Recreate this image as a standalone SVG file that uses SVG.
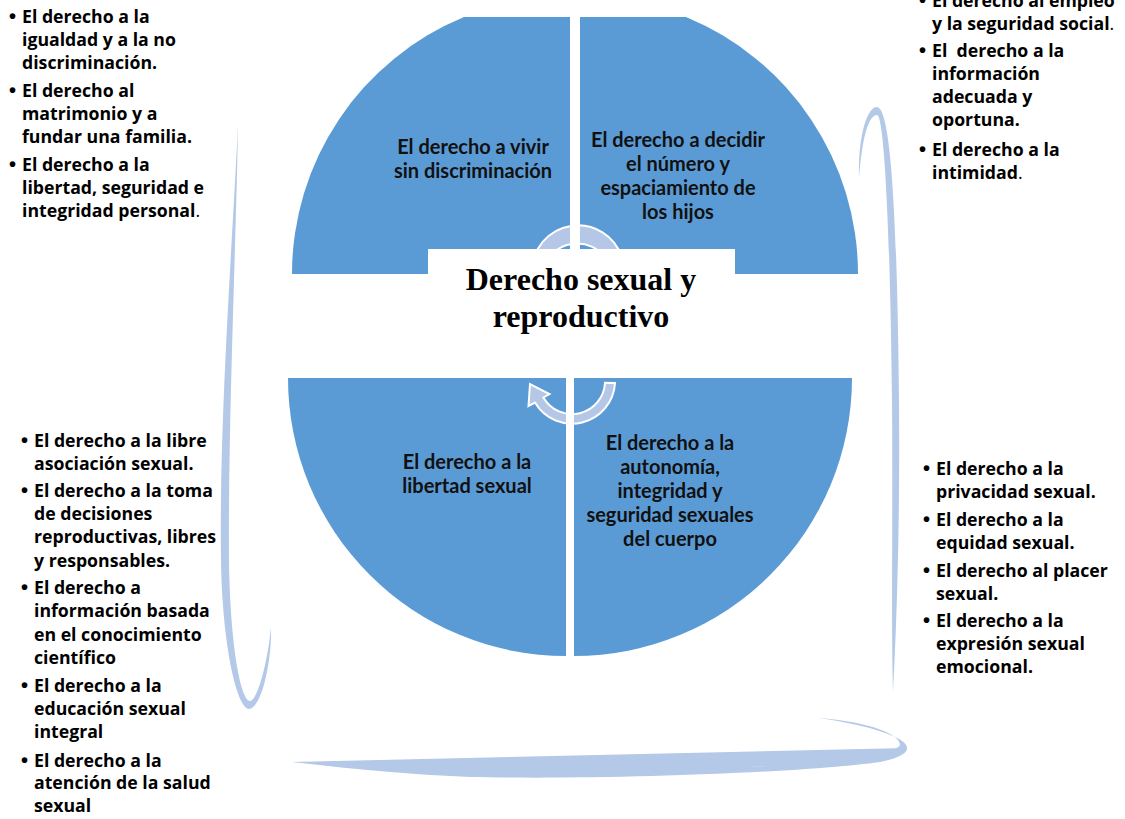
<svg xmlns="http://www.w3.org/2000/svg" width="1125" height="819" viewBox="0 0 1125 819">
<defs>
<style>
.quad{fill:#5b9bd5}
.brace{fill:#b4c8e8}
.arrow{fill:#b4c7e7;stroke:#fff;stroke-width:2}
.side{font-family:"Open Sans","Liberation Sans",sans-serif;font-weight:bold;font-size:17.7px;fill:#000}
.bul{font-family:"Liberation Sans",sans-serif;font-weight:bold;font-size:20px;fill:#000}
.qt{font-family:Lato,"Liberation Sans",sans-serif;font-weight:bold;font-size:20px;fill:#111;text-anchor:middle}
.title{font-family:"Liberation Serif","Times New Roman",serif;font-weight:bold;font-size:32px;fill:#000;text-anchor:middle}
.nw{font-weight:normal}
</style>
</defs>
<rect width="1125" height="819" fill="#fff"/>

<g id="braces">
<path class="brace" d="M238,125 C232,250 219,420 221,560 C222,640 236,708 249,709 C262,708 272,660 271,627 C268,660 258,700 250,701 C240,700 230,640 229,560 C228,420 236,250 238,125 Z"/>
<path class="brace" d="M859,178 C858,140 866,107 877,107 C890,108 897,200 899,400 C900,520 897,620 893,692 C891,620 893,520 892,400 C890,220 884,115 877,115 C868,115 862,140 859,178 Z"/>
<path class="brace" d="M292,762 C420,766 600,770 780,766 C860,762 905,756 907,748 C908,738 870,725 818,718 C870,722 900,734 900,745 C898,752 860,758 780,760 C600,763 420,762 292,762 Z M292,762 C360,770 420,775 470,777 C600,780 800,773 880,762 C900,758 908,752 907,748"/>
</g>

<g id="q-top-left">
<path class="quad" d="M570,274 H292 A278,278 0 0 1 464,17 H570 Z"/>
<text class="qt" x="473" y="154">El derecho a vivir</text>
<text class="qt" x="473" y="178">sin discriminación</text>
</g>
<g id="q-top-right">
<path class="quad" d="M580,274 V17 H686 A278,278 0 0 1 858,274 Z"/>
<text class="qt" x="678" y="147">El derecho a decidir</text>
<text class="qt" x="678" y="171">el número y</text>
<text class="qt" x="678" y="195">espaciamiento de</text>
<text class="qt" x="678" y="219">los hijos</text>
</g>
<g id="q-bottom-left">
<path class="quad" d="M566,378 H288 A278,278 0 0 0 566,656 Z"/>
<text class="qt" x="467" y="469">El derecho a la</text>
<text class="qt" x="467" y="493">libertad sexual</text>
</g>
<g id="q-bottom-right">
<path class="quad" d="M574,378 V656 A278,278 0 0 0 852,378 Z"/>
<text class="qt" x="670" y="450">El derecho a la</text>
<text class="qt" x="670" y="474">autonomía,</text>
<text class="qt" x="670" y="498">integridad y</text>
<text class="qt" x="670" y="522">seguridad sexuales</text>
<text class="qt" x="670" y="546">del cuerpo</text>
</g>

<g id="connectors">
<path class="arrow" d="M532,272 A46,46 0 0 1 622,258 L627,255 L618,279 L601,262 L608,261 A36,36 0 0 0 542,272 Z"/>
<path class="arrow" d="M615,383 A43,43 0 0 1 535,402.5 L528.5,406 L530,384 L549.5,394 L543.4,397.5 A33,33 0 0 0 605,382.7 Z"/>
<rect x="570" y="17" width="10" height="257" fill="#fff"/>
<rect x="566" y="378" width="8" height="280" fill="#fff"/>
</g>

<g id="center">
<rect x="428" y="249" width="307" height="125" fill="#fff"/>
<text class="title" x="581" y="290">Derecho sexual y</text>
<text class="title" x="581" y="327">reproductivo</text>
</g>

<g id="list-top-left">
<text class="bul" x="9" y="23">•</text><text class="side" x="22" y="23">El derecho a la</text>
<text class="side" x="22" y="46">igualdad y a la no</text>
<text class="side" x="22" y="69">discriminación.</text>
<text class="bul" x="9" y="97">•</text><text class="side" x="22" y="97">El derecho al</text>
<text class="side" x="22" y="120">matrimonio y a</text>
<text class="side" x="22" y="143">fundar una familia.</text>
<text class="bul" x="9" y="171">•</text><text class="side" x="22" y="171">El derecho a la</text>
<text class="side" x="22" y="194">libertad, seguridad e</text>
<text class="side" x="22" y="217">integridad personal<tspan class="nw">.</tspan></text>
</g>

<g id="list-top-right">
<text class="bul" x="919" y="7">•</text><text class="side" x="932" y="7">El derecho al empleo</text>
<text class="side" x="932" y="30">y la seguridad social<tspan class="nw">.</tspan></text>
<text class="bul" x="919" y="57">•</text><text class="side" x="932" y="57" xml:space="preserve">El  derecho a la</text>
<text class="side" x="932" y="80">información</text>
<text class="side" x="932" y="103">adecuada y</text>
<text class="side" x="932" y="126">oportuna.</text>
<text class="bul" x="919" y="156">•</text><text class="side" x="932" y="156">El derecho a la</text>
<text class="side" x="932" y="179">intimidad<tspan class="nw">.</tspan></text>
</g>

<g id="list-bottom-left">
<text class="bul" x="21" y="447">•</text><text class="side" x="34" y="447">El derecho a la libre</text>
<text class="side" x="34" y="470">asociación sexual.</text>
<text class="bul" x="21" y="497">•</text><text class="side" x="34" y="497">El derecho a la toma</text>
<text class="side" x="34" y="520">de decisiones</text>
<text class="side" x="34" y="543">reproductivas, libres</text>
<text class="side" x="34" y="567">y responsables.</text>
<text class="bul" x="21" y="594">•</text><text class="side" x="34" y="594">El derecho a</text>
<text class="side" x="34" y="617">información basada</text>
<text class="side" x="34" y="641">en el conocimiento</text>
<text class="side" x="34" y="664">científico</text>
<text class="bul" x="21" y="692">•</text><text class="side" x="34" y="692">El derecho a la</text>
<text class="side" x="34" y="715">educación sexual</text>
<text class="side" x="34" y="738">integral</text>
<text class="bul" x="21" y="767">•</text><text class="side" x="34" y="767">El derecho a la</text>
<text class="side" x="34" y="789">atención de la salud</text>
<text class="side" x="34" y="812">sexual</text>
</g>

<g id="list-bottom-right">
<text class="bul" x="923" y="475">•</text><text class="side" x="936" y="475">El derecho a la</text>
<text class="side" x="936" y="498">privacidad sexual.</text>
<text class="bul" x="923" y="526">•</text><text class="side" x="936" y="526">El derecho a la</text>
<text class="side" x="936" y="549">equidad sexual.</text>
<text class="bul" x="923" y="577">•</text><text class="side" x="936" y="577">El derecho al placer</text>
<text class="side" x="936" y="600">sexual.</text>
<text class="bul" x="923" y="627">•</text><text class="side" x="936" y="627">El derecho a la</text>
<text class="side" x="936" y="650">expresión sexual</text>
<text class="side" x="936" y="673">emocional.</text>
</g>
</svg>
